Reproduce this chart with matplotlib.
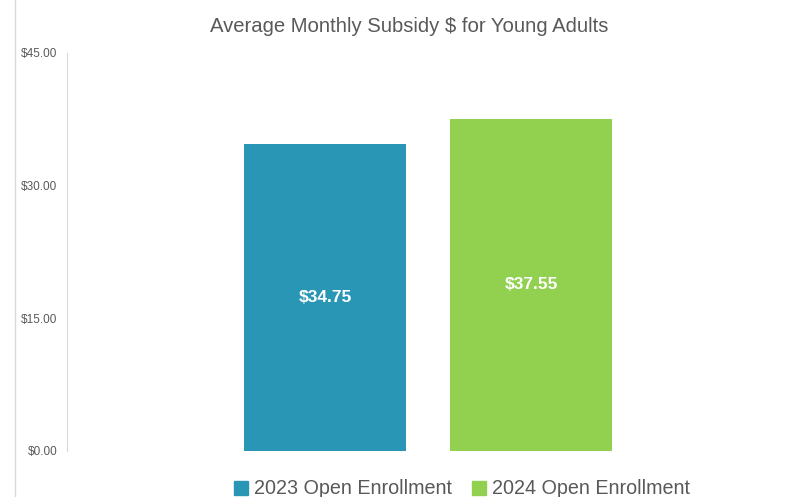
import matplotlib.pyplot as plt
from matplotlib.patches import Patch
from matplotlib.lines import Line2D

plt.rcParams['font.family'] = ['Liberation Sans', 'DejaVu Sans']

# data
categories = ["2023 Open Enrollment", "2024 Open Enrollment"]
subsidy = [34.75, 37.55]
colors = ["#2896B4", "#92D050"]
yticks = [0, 15, 30, 45]

fig = plt.figure(figsize=(7.99, 4.97), dpi=100)
ax = fig.add_axes([67/799, 46/497, 1 - 67/799, 398/497])

x = [0, 1]
bars = ax.bar(x, subsidy, width=0.786, color=colors)
for b, v in zip(bars, subsidy):
    ax.text(b.get_x() + b.get_width()/2, v/2, f"${v:.2f}", ha='center', va='center',
            color='white', fontsize=12.5, fontweight='bold')

ax.set_xlim(-1.252, 2.30)
ax.set_ylim(0, 45)
ax.set_yticks(yticks)
ax.set_yticklabels([f"${t:.2f}" for t in yticks], fontsize=8.5, color='#595959')
ax.tick_params(axis='y', length=0, pad=7)
ax.set_xticks([])
for s in ['top', 'right', 'bottom']:
    ax.spines[s].set_visible(False)
ax.spines['left'].set_color('#D9D9D9')

fig.text(409/799, 1 - 27/497, "Average Monthly Subsidy $ for Young Adults",
         ha='center', va='center', fontsize=14.6, color='#595959')

# faint border line on the left
fig.add_artist(Line2D([15/799, 15/799], [0, 1], color='#D9D9D9', lw=1))

handles = [Patch(color=c) for c in colors]
fig.legend(handles, categories, loc='center', bbox_to_anchor=(462/799, 1 - 489/497),
           ncol=2, frameon=False, fontsize=14.2, handlelength=0.7, handleheight=0.7,
           handletextpad=0.3, columnspacing=1.0, labelcolor='#595959')

fig.savefig("out.png", dpi=100)
